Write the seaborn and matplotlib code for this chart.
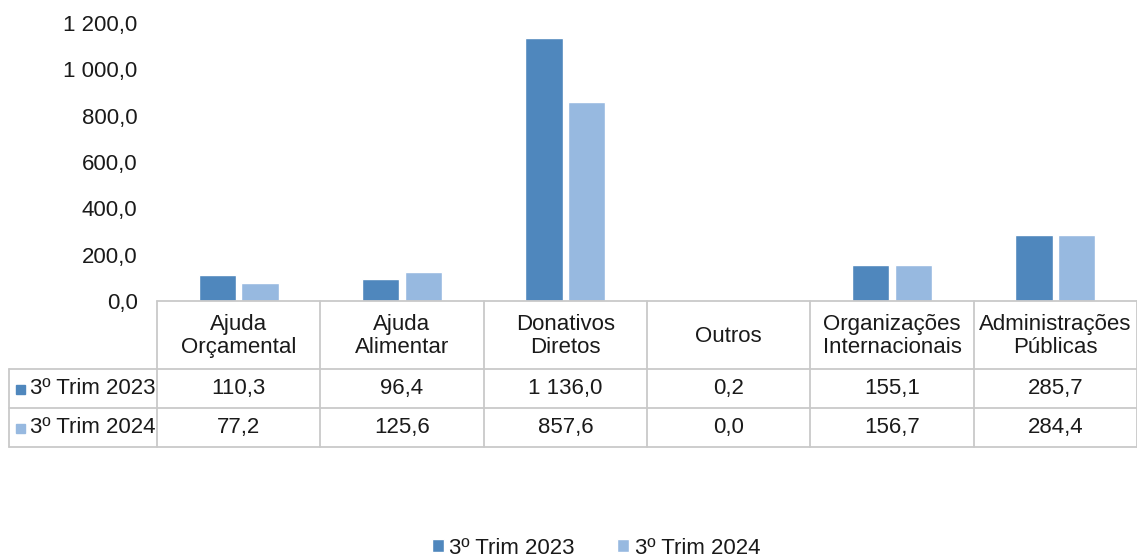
import pandas as pd
import matplotlib
matplotlib.use("Agg")
import matplotlib.pyplot as plt
import seaborn as sns
from matplotlib.ticker import FuncFormatter
from matplotlib.lines import Line2D
from matplotlib.patches import Rectangle

# ---- data ----
categorias = ["Ajuda\nOrçamental", "Ajuda\nAlimentar", "Donativos\nDiretos",
              "Outros", "Organizações\nInternacionais", "Administrações\nPúblicas"]
series = ["3º Trim 2023", "3º Trim 2024"]
trim_2023 = [110.3, 96.4, 1136.0, 0.2, 155.1, 285.7]
trim_2024 = [77.2, 125.6, 857.6, 0.0, 156.7, 284.4]
cores = ["#4f87bd", "#97b9e0"]

df = pd.DataFrame({
    "Categoria": categorias * 2,
    "Serie": [series[0]] * len(categorias) + [series[1]] * len(categorias),
    "Valor": trim_2023 + trim_2024,
})

sns.set_theme(style="white")
plt.rcParams["font.family"] = ["Liberation Sans Narrow", "Liberation Sans", "DejaVu Sans"]
txt_color = "#1a1a1a"
grid_color = "#c9c9c9"
fs = 16

W, H = 1137, 560
fig = plt.figure(figsize=(W / 100, H / 100), dpi=100)

def fx(px):
    return px / W

def fy(py):
    return 1 - py / H

ax_left, ax_right, ax_top, ax_bot = 157, 1137, 23, 301
ax = fig.add_axes([fx(ax_left), fy(ax_bot), fx(ax_right - ax_left), (ax_bot - ax_top) / H])

sns.barplot(data=df, x="Categoria", y="Valor", hue="Serie", order=categorias,
            hue_order=series, palette=cores, width=0.52, gap=0.12,
            saturation=1, ax=ax)

ax.set_ylim(0, 1200)
ax.set_xlim(-0.5, len(categorias) - 0.5)
ax.set_yticks(range(0, 1201, 200))
ax.yaxis.set_major_formatter(FuncFormatter(
    lambda v, p: f"{v:,.1f}".replace(",", " ").replace(".", ",")))
ax.tick_params(axis="y", labelsize=fs, colors=txt_color, length=0, pad=14)
ax.set_xticks([])
ax.set_xlabel("")
ax.set_ylabel("")
for s in ax.spines.values():
    s.set_visible(False)

# legend
sns.move_legend(ax, "center", bbox_to_anchor=(596 / W, fy(548)),
                bbox_transform=fig.transFigure, ncol=2, frameon=False,
                title=None, fontsize=fs, handlelength=0.55, handleheight=0.55,
                handletextpad=0.25, columnspacing=1.9)
for t in ax.get_legend().get_texts():
    t.set_color(txt_color)

# ---- data table ----
col_w = (ax_right - ax_left) / len(categorias)
row_edges = [301, 369, 408, 447]
left_edge = 9

lines = []
lines.append(([ax_left, ax_right], [row_edges[0]] * 2))
for r in row_edges[1:]:
    lines.append(([left_edge, ax_right], [r, r]))
lines.append(([left_edge, left_edge], [row_edges[1], row_edges[3]]))
for i in range(len(categorias) + 1):
    x = ax_left + i * col_w
    lines.append(([x, x], [row_edges[0], row_edges[3]]))
for xs, ys in lines:
    fig.add_artist(Line2D([fx(v) for v in xs], [fy(v) for v in ys],
                          color=grid_color, lw=1.3, transform=fig.transFigure))

def fmt(v):
    return f"{v:,.1f}".replace(",", " ").replace(".", ",")

for i, cat in enumerate(categorias):
    cx = ax_left + (i + 0.5) * col_w
    fig.text(fx(cx), fy((row_edges[0] + row_edges[1]) / 2 + 1), cat,
             ha="center", va="center", fontsize=fs, color=txt_color,
             linespacing=1.15)
    for r, vals in enumerate([trim_2023, trim_2024]):
        cy = (row_edges[r + 1] + row_edges[r + 2]) / 2
        fig.text(fx(cx), fy(cy), fmt(vals[i]), ha="center", va="center",
                 fontsize=fs, color=txt_color)

for r, nome in enumerate(series):
    cy = (row_edges[r + 1] + row_edges[r + 2]) / 2
    fig.add_artist(Rectangle((fx(16), fy(cy + 5)), fx(9), 9 / H,
                             color=cores[r], transform=fig.transFigure))
    fig.text(fx(30), fy(cy), nome, ha="left", va="center",
             fontsize=fs, color=txt_color)

fig.savefig("out.png", dpi=100)
